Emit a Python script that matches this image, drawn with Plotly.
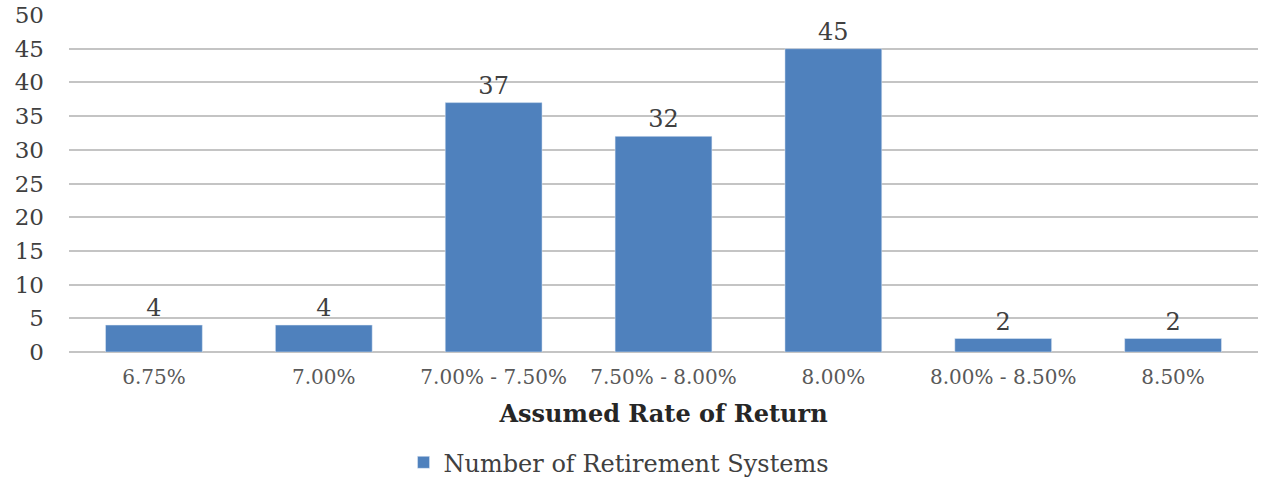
import plotly.graph_objects as go

categories = ['6.75%', '7.00%', '7.00% - 7.50%', '7.50% - 8.00%', '8.00%', '8.00% - 8.50%', '8.50%']
counts = [4, 4, 37, 32, 45, 2, 2]
series_name = 'Number of Retirement Systems'
y_ticks = list(range(0, 55, 5))

SERIF = 'DejaVu Serif, Liberation Serif, serif'

fig = go.Figure()
fig.add_trace(go.Bar(
    name=series_name,
    x=categories,
    y=counts,
    marker_color='#4F81BD',
    text=[str(v) for v in counts],
    textposition='outside',
    textfont=dict(family=SERIF, size=24, color='#404040'),
    cliponaxis=False,
    showlegend=True,
))

fig.update_layout(
    width=1261,
    height=482,
    plot_bgcolor='white',
    paper_bgcolor='white',
    bargap=0.43,
    margin=dict(l=69, r=3, t=15, b=130),
    font=dict(family=SERIF, color='#404040'),
    xaxis=dict(
        automargin=False,
        tickfont=dict(family=SERIF, size=20, color='#595959'),
        ticklabelstandoff=11,
        title=dict(text='<b>Assumed Rate of Return</b>',
                   font=dict(family=SERIF, size=24, color='#262626'),
                   standoff=17),
        showline=False,
        ticks='',
    ),
    yaxis=dict(
        automargin=False,
        range=[0, 50],
        tickvals=y_ticks,
        tickfont=dict(family=SERIF, size=23, color='#404040'),
        showgrid=True,
        gridcolor='#C4C4C4',
        gridwidth=2,
        zeroline=True,
        zerolinecolor='#C4C4C4',
        zerolinewidth=2,
        ticks='',
        ticklabelstandoff=24,
    ),
    showlegend=True,
    legend=dict(
        orientation='h',
        xanchor='center', x=0.4626,
        yref='container', yanchor='middle', y=0.04,
        font=dict(family=SERIF, size=24, color='#404040'),
        itemwidth=30,
    ),
)

# drop the default page margin so the figure sits at the window's corner
fig.write_html('out.html', config={'displayModeBar': False},
               post_script="document.body.style.margin='0';document.body.style.overflow='hidden';")
